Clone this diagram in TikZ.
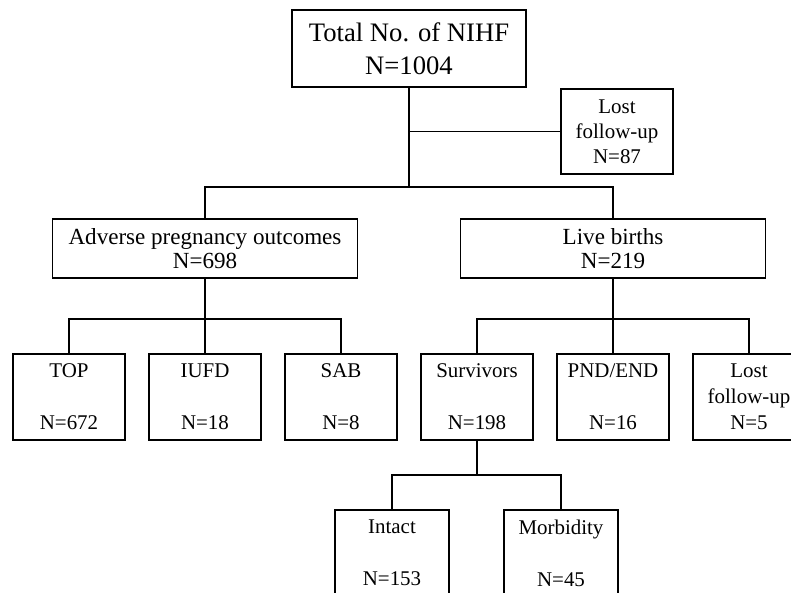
\documentclass[tikz,border=0pt]{standalone}
\usepackage{fontspec}
\setmainfont{Liberation Serif}
\tikzset{
	box/.style={draw, line width=1.2pt, inner sep=0pt, align=center},
	smallbox/.style={box, minimum width=84pt, minimum height=64.5pt, font=\fontsize{15.7}{19.6}\selectfont},
	midbox/.style={box, minimum width=228.75pt, minimum height=44.25pt, font=\fontsize{17.3}{17.6}\selectfont},
	link/.style={line width=1.2pt}
}
\begin{document}
\begin{tikzpicture}[x=0.75pt,y=-0.75pt]
	\useasboundingbox (0,0) rectangle (791,592);
	% top level
	\node[box, minimum width=175.5pt, minimum height=57.75pt, font=\fontsize{20}{24.75}\selectfont] (total) at (409,48.5) {Total No. of NIHF\\N=1004};
	\node[box, minimum width=84pt, minimum height=63.75pt, font=\fontsize{15.7}{18.9}\selectfont] (lostA) at (617,131.5) {Lost\\follow-up\\N=87};
	\coordinate (split) at (409,187);
	\draw[link] (total.south) -- (split);
	\draw[link] (total.south |- lostA.west) -- (lostA.west);
	% second level
	\node[midbox] (adverse) at (205,248.5) {Adverse pregnancy outcomes\\N=698};
	\node[midbox] (live) at (613,248.5) {Live births\\N=219};
	\draw[link] (adverse.north) |- (split) -| (live.north);
	% third level
	\node[smallbox] (top) at (69,397) {TOP\\~\\N=672};
	\node[smallbox] (iufd) at (205,397) {IUFD\\~\\N=18};
	\node[smallbox] (sab) at (341,397) {SAB\\~\\N=8};
	\node[smallbox] (surv) at (477,397) {Survivors\\~\\N=198};
	\node[smallbox] (pnd) at (613,397) {PND/END\\~\\N=16};
	\node[smallbox] (lostB) at (749,397) {Lost\\follow-up\\N=5};
	\coordinate (splitA) at (205,319);
	\coordinate (splitB) at (613,319);
	\draw[link] (adverse.south) -- (splitA) -- (iufd.north);
	\draw[link] (top.north) |- (splitA) -| (sab.north);
	\draw[link] (live.south) -- (splitB) -- (pnd.north);
	\draw[link] (surv.north) |- (splitB) -| (lostB.north);
	% fourth level
	\node[smallbox, minimum width=85.5pt] (intact) at (392,553) {Intact\\~\\N=153};
	\node[smallbox, minimum width=85.5pt] (morb) at (561,553) {Morbidity\\~\\N=45};
	\coordinate (splitC) at (477,475);
	\draw[link] (surv.south) -- (splitC);
	\draw[link] (intact.north) |- (splitC) -| (morb.north);
\end{tikzpicture}
\end{document}
